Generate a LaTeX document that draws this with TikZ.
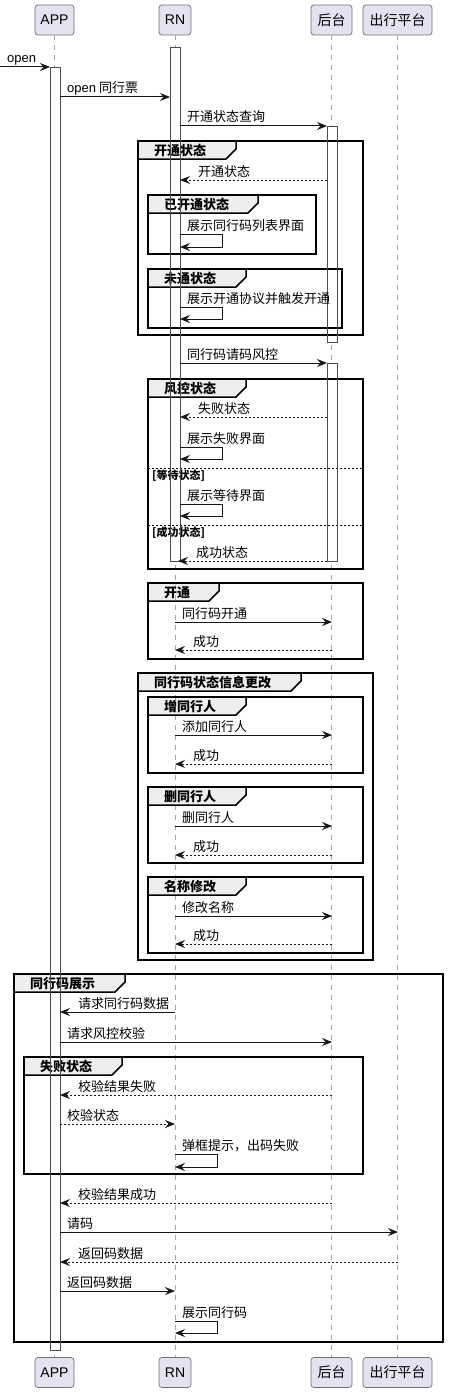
\documentclass[tikz,border=0pt]{standalone}
\usepackage{fontspec}
\setmainfont{Liberation Sans}
\newfontfamily\lat{Liberation Sans}
\newfontfamily\cjk{Noto Sans CJK SC}
\usetikzlibrary{arrows.meta,calc}
\definecolor{pbox}{HTML}{E2E2F0}
\definecolor{tabg}{HTML}{EEEEEE}
\definecolor{ln}{HTML}{181818}
\tikzset{
 x=1pt,y=-1pt,
 part/.style={draw=black!55, fill=pbox, rounded corners=3pt, line width=0.7pt, minimum height=30pt, inner sep=0pt, font=\fontsize{14}{14}\selectfont},
 life/.style={draw=black!35, line width=0.8pt, dash pattern=on 5pt off 5pt},
 bar/.style={draw=black!70, fill=white, line width=0.8pt},
 barline/.style={draw=black!70, line width=0.8pt},
 msg/.style={draw=ln, line width=1pt, -{Stealth[length=10pt,width=8pt,inset=3.5pt]}},
 ret/.style={msg, dash pattern=on 2pt off 2pt},
 lbl/.style={anchor=base west, inner sep=0pt, font=\fontsize{13}{13}\selectfont\cjk},
 frame/.style={draw=black, line width=1.5pt},
 tabfill/.style={fill=tabg},
 taboutline/.style={draw=black, line width=1.5pt},
 gtitle/.style={anchor=base west, inner sep=0pt, font=\fontsize{13}{13}\selectfont\cjk\bfseries},
 sep/.style={draw=black, line width=0.8pt, dash pattern=on 2pt off 2pt},
 seplbl/.style={anchor=base west, inner sep=0pt, font=\fontsize{11}{11}\selectfont\cjk\bfseries},
}
\newcommand\msgline[6]{%
 \coordinate (#1a) at (#2,#4);
 \coordinate (#1b) at (#3,#4);
 \draw[#5] (#1a) -- (#1b);
 \pgfmathsetmacro\lblx{(#2<#3) ? (#2+7) : (#3+18)}
 \node[lbl] (#1t) at (\lblx,#4-4) {#6};
}
\newcommand\selfmsg[5]{%
 \coordinate (#1a) at (#2,#3);
 \coordinate (#1b) at (#2+42,#3);
 \coordinate (#1c) at (#2+42,#4);
 \coordinate (#1d) at (#2,#4);
 \draw[msg] (#1a) -- (#1b) -- (#1c) -- (#1d);
 \node[lbl] (#1t) at (#2+7,#3-4) {#5};
}
\def\grouplist{g1/138/141/363/335/236/开通状态,
 g2/148/195/316/254/258/已开通状态,
 g3/148/269/342/328/246/未通状态,
 g4/148/379/363/569/246/风控状态,
 g5/148/583/363/659/219/开通,
 g6/138/673/373/960/301/同行码状态信息更改,
 g7/148/697/363/773/246/增同行人,
 g8/148/787/363/863/246/删同行人,
 g9/148/877/363/953/246/名称修改,
 g10/14/974/443/1342/125/同行码展示,
 g11/24/1057/363/1174/122/失败状态}
\def\barlist{appbar/50/67/60/1350, rnbar/170/47/180/561, bebarA/327/126/337/342, bebarB/327/363/337/561}
\begin{document}
\begin{tikzpicture}
\useasboundingbox (0,0) rectangle (449,1394);
\fill[white] (0,0) rectangle (449,1394);
% participants
\node[part, minimum width=39pt] (appT) at (54.5,20) {APP};
\node[part, minimum width=32pt] (rnT) at (175,20) {RN};
\node[part, minimum width=41pt] (beT) at (331.5,20) {\cjk 后台};
\node[part, minimum width=69pt] (cxT) at (397.5,20) {\cjk 出行平台};
\node[part, minimum width=39pt] (appB) at (54.5,1372.5) {APP};
\node[part, minimum width=32pt] (rnB) at (175,1372.5) {RN};
\node[part, minimum width=41pt] (beB) at (331.5,1372.5) {\cjk 后台};
\node[part, minimum width=69pt] (cxB) at (397.5,1372.5) {\cjk 出行平台};
% group tab fills
\foreach \n/\xa/\ya/\xb/\yb/\tr/\t in \grouplist {
 \fill[tabfill] (\xa,\ya) -- (\tr,\ya) -- (\tr,\ya+8) -- (\tr-10,\ya+18) -- (\xa,\ya+18) -- cycle;
}
% lifelines
\draw[life] (appT.south) -- (appB.north);
\draw[life] (rnT.south) -- (rnB.north);
\draw[life] (beT.south) -- (beB.north);
\draw[life] (cxT.south) -- (cxB.north);
% activation bars
\foreach \n/\xa/\ya/\xb/\yb in \barlist {
 \draw[bar] (\xa,\ya) rectangle (\xb,\yb);
}
% group frames and titles
\foreach \n/\xa/\ya/\xb/\yb/\tr/\t in \grouplist {
 \draw[frame] (\xa,\ya) rectangle (\xb,\yb);
 \draw[taboutline] (\xa,\ya) -- (\tr,\ya) -- (\tr,\ya+8) -- (\tr-10,\ya+18) -- (\xa,\ya+18);
 \node[gtitle] (\n) at (\xa+16,\ya+14) {\t};
}
% else separators
\coordinate (sepAa) at (148,468); \coordinate (sepAb) at (363,468);
\draw[sep] (sepAa) -- (sepAb);
\node[seplbl] (sepAt) at (152,479) {[等待状态]};
\coordinate (sepBa) at (148,525); \coordinate (sepBb) at (363,525);
\draw[sep] (sepBa) -- (sepBb);
\node[seplbl] (sepBt) at (152,536) {[成功状态]};
% bar outlines over tabs
\foreach \n/\xa/\ya/\xb/\yb in \barlist {
 \draw[barline] (\xa,\ya) rectangle (\xb,\yb);
}
% messages
\msgline{m1}{0}{50}{67}{msg}{\lat open}
\msgline{m2}{60}{170}{97}{msg}{{\lat open} 同行票}
\msgline{m3}{180}{327}{126}{msg}{开通状态查询}
\msgline{m4}{327}{180}{180}{ret}{开通状态}
\selfmsg{s1}{180}{234}{247}{展示同行码列表界面}
\selfmsg{s2}{180}{307}{319}{展示开通协议并触发开通}
\msgline{m5}{180}{327}{363}{msg}{同行码请码风控}
\msgline{m6}{327}{180}{417}{ret}{失败状态}
\selfmsg{s3}{180}{447}{459}{展示失败界面}
\selfmsg{s4}{180}{504}{516}{展示等待界面}
\msgline{m7}{327}{178}{561}{ret}{成功状态}
\msgline{m8}{175}{332}{622}{msg}{同行码开通}
\msgline{m9}{332}{175}{650}{ret}{成功}
\msgline{m10}{175}{332}{735}{msg}{添加同行人}
\msgline{m11}{332}{175}{764}{ret}{成功}
\msgline{m12}{175}{332}{826}{msg}{删同行人}
\msgline{m13}{332}{175}{855}{ret}{成功}
\msgline{m14}{175}{332}{916}{msg}{修改名称}
\msgline{m15}{332}{175}{944}{ret}{成功}
\msgline{m16}{175}{60}{1012}{msg}{请求同行码数据}
\msgline{m17}{60}{332}{1042}{msg}{请求风控校验}
\msgline{m18}{332}{60}{1095}{ret}{校验结果失败}
\msgline{m19}{60}{175}{1124}{ret}{校验状态}
\selfmsg{s5}{175}{1154}{1167}{弹框提示，出码失败}
\msgline{m20}{332}{60}{1203}{ret}{校验结果成功}
\msgline{m21}{60}{398}{1232}{msg}{请码}
\msgline{m22}{398}{60}{1262}{ret}{返回码数据}
\msgline{m23}{60}{175}{1291}{msg}{返回码数据}
\selfmsg{s6}{175}{1321}{1333}{展示同行码}
\end{tikzpicture}
\end{document}
